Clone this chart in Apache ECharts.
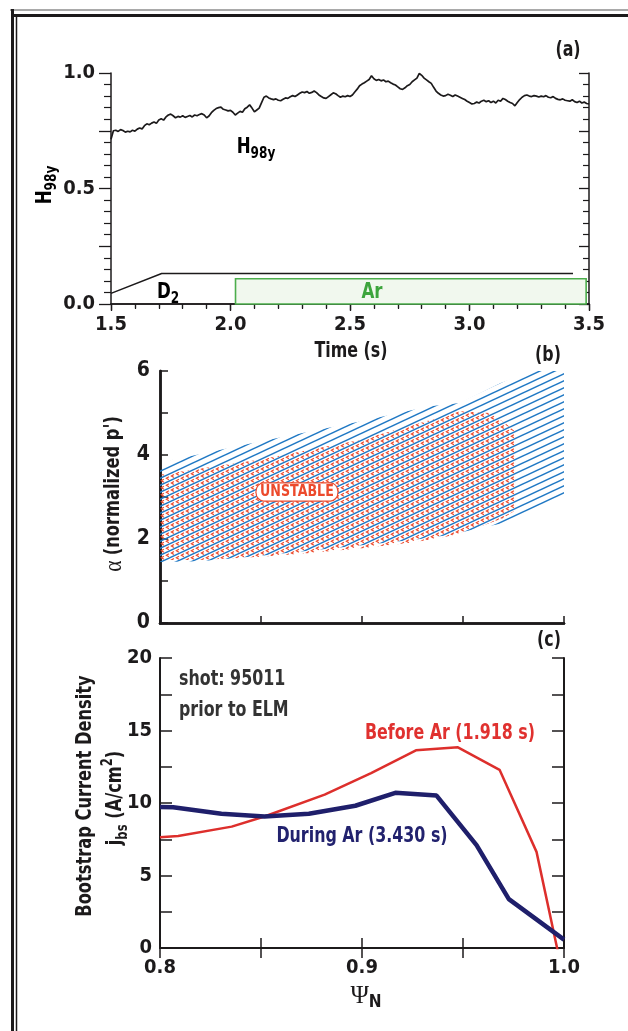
<!DOCTYPE html>
<html>
<head>
<meta charset="utf-8">
<script src="https://cdn.jsdelivr.net/npm/echarts@6/dist/echarts.min.js"></script>
<style>
  html, body { margin: 0; padding: 0; background: #fff; }
  #chart { width: 628px; height: 1031px; }
</style>
</head>
<body>
<div id="chart"></div>
<script>
// ---------- data ----------
// (a) H98y confinement factor, sampled every 10 ms from 1.50 s to 3.50 s
const h98Start = 1.5;
const h98Step = 0.01;
const h98Values = [
  0.713, 0.750, 0.752, 0.747, 0.755, 0.751, 0.744, 0.748, 0.745, 0.752,
  0.748, 0.757, 0.762, 0.758, 0.772, 0.780, 0.776, 0.783, 0.788, 0.782,
  0.797, 0.802, 0.796, 0.810, 0.818, 0.822, 0.815, 0.806, 0.812, 0.809,
  0.815, 0.808, 0.812, 0.816, 0.810, 0.818, 0.815, 0.820, 0.824, 0.818,
  0.806, 0.814, 0.828, 0.838, 0.846, 0.850, 0.852, 0.843, 0.840, 0.836,
  0.838, 0.830, 0.818, 0.826, 0.834, 0.830, 0.845, 0.852, 0.862, 0.848,
  0.832, 0.840, 0.848, 0.872, 0.895, 0.900, 0.892, 0.888, 0.885, 0.888,
  0.882, 0.880, 0.886, 0.892, 0.890, 0.897, 0.902, 0.898, 0.905, 0.912,
  0.918, 0.915, 0.920, 0.912, 0.916, 0.922, 0.915, 0.905, 0.898, 0.892,
  0.890, 0.898, 0.906, 0.914, 0.910, 0.902, 0.895, 0.900, 0.897, 0.902,
  0.898, 0.905, 0.918, 0.930, 0.945, 0.952, 0.958, 0.965, 0.972, 0.988,
  0.975, 0.968, 0.972, 0.966, 0.970, 0.962, 0.965, 0.958, 0.952, 0.948,
  0.940, 0.932, 0.929, 0.936, 0.945, 0.950, 0.962, 0.970, 0.978, 0.998,
  0.990, 0.978, 0.970, 0.962, 0.955, 0.938, 0.922, 0.912, 0.905, 0.900,
  0.902, 0.908, 0.904, 0.898, 0.905, 0.900, 0.895, 0.890, 0.885, 0.878,
  0.872, 0.866, 0.868, 0.874, 0.870, 0.878, 0.882, 0.876, 0.880, 0.872,
  0.878, 0.870, 0.882, 0.878, 0.890, 0.885, 0.878, 0.872, 0.868, 0.858,
  0.872, 0.885, 0.895, 0.902, 0.905, 0.900, 0.898, 0.902, 0.900, 0.896,
  0.900, 0.897, 0.902, 0.895, 0.893, 0.898, 0.890, 0.886, 0.884, 0.888,
  0.882, 0.880, 0.878, 0.884, 0.876, 0.872, 0.878, 0.870, 0.874, 0.868,
  0.866
];
// D2 gas waveform (time, scaled level)
const d2Wave = [[1.5, 0.046], [1.712, 0.132], [3.433, 0.132]];
// Argon puff window: [start, end] in s, box height
const arWindow = [2.021, 3.488];
const arHeight = 0.109;

// (b) stability diagram regions (normalised radius 0..1, alpha)
const stableUpper = [[0, 3.72], [0.03, 3.88], [0.248, 4.32], [0.495, 4.8], [0.668, 5.16],
                     [0.743, 5.24], [0.842, 5.71], [0.916, 5.97], [0.93, 6.0], [1, 6.0]];
const stableLower = [[0, 1.45], [0.1, 1.47], [0.25, 1.6], [0.35, 1.7], [0.5, 1.85],
                     [0.63, 1.98], [0.72, 2.1], [0.8, 2.28], [0.861, 2.4], [1, 3.05]];
const unstableUpper = [[0, 3.53], [0.248, 3.89], [0.43, 4.24], [0.495, 4.36], [0.644, 4.76],
                       [0.743, 5.04], [0.817, 5.0], [0.854, 4.76], [0.879, 4.56]];
const unstableLower = [[0, 1.5], [0.1, 1.5], [0.25, 1.58], [0.35, 1.65], [0.5, 1.78],
                       [0.63, 1.92], [0.72, 2.08], [0.8, 2.32], [0.85, 2.5], [0.879, 2.68]];
const unstableLabelAt = [0.339, 3.12];

// (c) bootstrap current density profiles
const psiBefore = [0.8, 0.809, 0.8355, 0.8517, 0.8815, 0.9045, 0.9267, 0.9475, 0.9681, 0.9864, 0.9975];
const jbsBefore = [7.63, 7.72, 8.37, 9.07, 10.58, 12.06, 13.63, 13.84, 12.29, 6.63, -0.6];
const psiDuring = [0.8, 0.8065, 0.8304, 0.8517, 0.8737, 0.8967, 0.9165, 0.9369, 0.9567, 0.9727, 1.0];
const jbsDuring = [9.72, 9.70, 9.26, 9.07, 9.26, 9.81, 10.70, 10.51, 7.09, 3.37, 0.58];

// ---------- styling ----------
const F = "'DejaVu Sans Condensed', 'Liberation Sans', Arial, sans-serif";
const SERIF = "'Liberation Serif', 'DejaVu Serif', serif";
const INK = '#1c1a1b';
const BLUE = '#1f78c4';
const RED = '#ec4a2c';
const NARROW = 0.84;   // horizontal squeeze for the condensed headline face

function pairs(xs, ys) { return xs.map((x, i) => [x, ys[i]]); }
const h98Data = h98Values.map((v, i) => [+(h98Start + i * h98Step).toFixed(2), v]);

// hatch tiles for the stability diagram: rising blue strokes, red chevron rows between them
const TW = 15, TH = 7;
function blueTile() {
  const c = document.createElement('canvas');
  c.width = TW; c.height = TH;
  const g = c.getContext('2d');
  g.strokeStyle = BLUE; g.lineWidth = 1.5;
  for (let k = -1; k <= 2; k++) {
    g.beginPath();
    g.moveTo(-2, TH + (TH / TW) * 2 + TH * k);
    g.lineTo(TW + 2, TH - (TH / TW) * (TW + 2) + TH * k);
    g.stroke();
  }
  return c;
}
function redTile() {
  const c = document.createElement('canvas');
  c.width = TW; c.height = TH;
  const g = c.getContext('2d');
  g.strokeStyle = RED; g.lineWidth = 1.25;
  const xs = [2.5, 7.5, 12.5];
  xs.forEach(cx0 => {
    const cy0 = ((1.5 * TH - (TH / TW) * cx0) % TH + TH) % TH;
    for (let dx = -TW; dx <= TW; dx += TW) {
      for (let dy = -TH; dy <= TH; dy += TH) {
        const cx = cx0 + dx, cy = cy0 + dy;
        g.beginPath();
        g.moveTo(cx + 1.4, cy - 1.5);
        g.lineTo(cx - 1.1, cy);
        g.lineTo(cx + 1.4, cy + 1.5);
        g.stroke();
      }
    }
  });
  return c;
}
const bluePattern = { image: blueTile(), repeat: 'repeat' };
const redPattern = { image: redTile(), repeat: 'repeat' };

function regionRenderer(upper, lower, fill) {
  return function (params, api) {
    if (params.dataIndex !== 0) return;
    const pts = upper.map(p => api.coord(p))
      .concat(lower.slice().reverse().map(p => api.coord(p)));
    return { type: 'polygon', shape: { points: pts }, style: { fill: fill, stroke: null }, silent: true };
  };
}

// ---------- axes ----------
const lineStyle = w => ({ show: true, lineStyle: { color: INK, width: w } });
const tickLabel = size => ({ color: INK, fontFamily: F, fontWeight: 'bold', fontSize: size });

const xAxes = [
  // (a) bottom
  { gridIndex: 0, type: 'value', min: 1.5, max: 3.5, interval: 0.5, position: 'bottom',
    axisLine: lineStyle(1.5), splitLine: { show: false },
    axisTick: { show: true, inside: false, length: 7, lineStyle: { color: INK, width: 1.3 } },
    minorTick: { show: true, splitNumber: 5, length: 5, lineStyle: { color: INK, width: 1.2 } },
    axisLabel: Object.assign(tickLabel(20), { margin: 11, formatter: v => v.toFixed(1) }) },
  // (a) top
  { gridIndex: 0, type: 'value', min: 1.5, max: 3.5, interval: 0.5, position: 'top',
    axisLine: lineStyle(1.5), splitLine: { show: false }, axisLabel: { show: false },
    axisTick: { show: true, inside: true, length: 6, lineStyle: { color: INK, width: 1.3 } },
    minorTick: { show: true, splitNumber: 5, length: 4, lineStyle: { color: INK, width: 1.2 } } },
  // (b) bottom
  { gridIndex: 1, type: 'value', min: 0, max: 1, interval: 0.25, position: 'bottom',
    axisLine: lineStyle(2.5), splitLine: { show: false }, axisLabel: { show: false },
    axisTick: { show: true, inside: true, length: 7, lineStyle: { color: INK, width: 1.5 } } },
  // (b) top
  { gridIndex: 1, type: 'value', min: 0, max: 1, position: 'top',
    axisLine: lineStyle(2.5), splitLine: { show: false }, axisLabel: { show: false }, axisTick: { show: false } },
  // (c) bottom
  { gridIndex: 2, type: 'value', min: 0.8, max: 1.0, interval: 0.05, position: 'bottom',
    axisLine: lineStyle(2), splitLine: { show: false },
    axisTick: { show: true, inside: true, length: 10, lineStyle: { color: INK, width: 1.5 } },
    axisLabel: Object.assign(tickLabel(20), { margin: 10,
      formatter: v => (Math.abs(v * 10 - Math.round(v * 10)) < 1e-6 ? v.toFixed(1) : '') }) },
  // (c) top
  { gridIndex: 2, type: 'value', min: 0.8, max: 1.0, interval: 0.05, position: 'top',
    axisLine: lineStyle(2), splitLine: { show: false }, axisLabel: { show: false },
    axisTick: { show: true, inside: true, length: 10, lineStyle: { color: INK, width: 1.5 } } }
];

const yAxes = [
  // (a) left
  { gridIndex: 0, type: 'value', min: 0, max: 1, interval: 0.25, position: 'left',
    axisLine: lineStyle(1.5), splitLine: { show: false },
    axisTick: { show: true, inside: false, length: 12, lineStyle: { color: INK, width: 1.3 } },
    minorTick: { show: true, splitNumber: 5, length: 7, lineStyle: { color: INK, width: 1.2 } },
    axisLabel: Object.assign(tickLabel(20), { margin: 16,
      formatter: v => (Math.abs(v * 2 - Math.round(v * 2)) < 1e-6 ? v.toFixed(1) : '') }) },
  // (a) right
  { gridIndex: 0, type: 'value', min: 0, max: 1, interval: 0.25, position: 'right',
    axisLine: lineStyle(1.5), splitLine: { show: false }, axisLabel: { show: false },
    axisTick: { show: true, inside: true, length: 10, lineStyle: { color: INK, width: 1.3 } },
    minorTick: { show: true, splitNumber: 5, length: 6, lineStyle: { color: INK, width: 1.2 } } },
  // (b) left
  { gridIndex: 1, type: 'value', min: 0, max: 6, interval: 1, position: 'left',
    axisLine: lineStyle(2.5), splitLine: { show: false },
    axisTick: { show: true, inside: true, length: 8, lineStyle: { color: INK, width: 1.5 } },
    axisLabel: Object.assign(tickLabel(21), { margin: 10, formatter: v => (v % 2 === 0 ? String(v) : '') }) },
  // (b) right
  { gridIndex: 1, type: 'value', min: 0, max: 6, position: 'right',
    axisLine: lineStyle(2.5), splitLine: { show: false }, axisLabel: { show: false }, axisTick: { show: false } },
  // (c) left
  { gridIndex: 2, type: 'value', min: 0, max: 20, interval: 2.5, position: 'left',
    axisLine: lineStyle(2), splitLine: { show: false },
    axisTick: { show: true, inside: true, length: 12, lineStyle: { color: INK, width: 1.5 } },
    axisLabel: Object.assign(tickLabel(20), { margin: 8, formatter: v => (v % 5 === 0 ? String(v) : '') }) },
  // (c) right
  { gridIndex: 2, type: 'value', min: 0, max: 20, interval: 2.5, position: 'right',
    axisLine: lineStyle(2), splitLine: { show: false }, axisLabel: { show: false },
    axisTick: { show: true, inside: true, length: 12, lineStyle: { color: INK, width: 1.5 } } }
];

// ---------- text helpers ----------
function tok(size, weight, family, extra) {
  return Object.assign({ fontSize: size, fontWeight: weight, fontFamily: family }, extra || {});
}
function label(x, y, text, rich, opts) {
  opts = opts || {};
  const el = {
    type: 'text', x: x, y: y, z: 100, silent: true,
    scaleX: opts.scaleX != null ? opts.scaleX : NARROW,
    style: Object.assign({ text: text, rich: rich, fill: INK, align: 'center', verticalAlign: 'middle',
      fontFamily: F, fontWeight: 'bold', fontSize: 20 }, opts.style || {})
  };
  if (opts.rotation) el.rotation = opts.rotation;
  return el;
}
const subRich = (main, sub, color) => ({
  m: tok(main, 'bold', F, { lineHeight: 30, verticalAlign: 'middle', fill: color }),
  s: tok(sub, 'bold', F, { lineHeight: 16, verticalAlign: 'bottom', fill: color })
});
const line = (x1, y1, x2, y2, w, c) => ({ type: 'line', silent: true, z: 100,
  shape: { x1: x1, y1: y1, x2: x2, y2: y2 }, style: { stroke: c || INK, lineWidth: w } });

const graphics = [
  // page frame
  line(10, 10, 628, 10, 1.2, '#555'),
  line(11, 15.5, 628, 15.5, 3),
  line(12.5, 9, 12.5, 1031, 3),
  line(16.5, 17, 16.5, 1031, 1.5),
  // panel letters
  label(568, 51, '(a)', null, { style: { fontSize: 21 } }),
  label(548, 356, '(b)', null, { style: { fontSize: 21 } }),
  label(549, 641, '(c)', null, { style: { fontSize: 21 } }),
  // (a) titles and annotations
  label(351, 352, 'Time (s)', null, { style: { fontSize: 21 } }),
  label(45, 185, '{m|H}{s|98y}', subRich(22, 16), { rotation: Math.PI / 2 }),
  label(256, 147, '{m|H}{s|98y}', subRich(22, 16)),
  label(168, 292, '{m|D}{s|2}', subRich(22, 16)),
  label(372, 292.5, 'Ar', null, { style: { fill: '#3da53d', fontSize: 22 } }),
  // (b) axis title
  label(114, 494, "{a|\u03b1} {b|(normalized p')}", {
    a: tok(25, 'normal', SERIF), b: tok(21, 'bold', F)
  }, { rotation: Math.PI / 2, scaleX: 0.86 }),
  // (c) axis titles and annotations
  label(86, 796, 'Bootstrap Current Density', null, { rotation: Math.PI / 2, scaleX: 0.86, style: { fontSize: 21 } }),
  label(116, 798, '{m|j}{s|bs}{m| (A/cm}{p|2}{m|)}', {
    m: tok(21, 'bold', F, { lineHeight: 30, verticalAlign: 'middle' }),
    s: tok(15, 'bold', F, { lineHeight: 16, verticalAlign: 'bottom' }),
    p: tok(15, 'bold', F, { lineHeight: 16, verticalAlign: 'top' })
  }, { rotation: Math.PI / 2, scaleX: 0.86 }),
  label(366, 996, '{a|\u03a8}{s|N}', {
    a: tok(25, 'normal', SERIF, { lineHeight: 30, verticalAlign: 'middle' }),
    s: tok(17, 'bold', F, { lineHeight: 18, verticalAlign: 'bottom' })
  }, { scaleX: 1 }),
  label(179, 680, 'shot: 95011', null, { style: { align: 'left', fill: '#333', fontSize: 21 } }),
  label(179, 711, 'prior to ELM', null, { style: { align: 'left', fill: '#333', fontSize: 21 } }),
  label(450, 734, 'Before Ar (1.918 s)', null, { style: { fill: '#e0312f', fontSize: 21 } }),
  label(362, 837, 'During Ar (3.430 s)', null, { style: { fill: '#22226e', fontSize: 21 } })
];

// ---------- chart ----------
const chart = echarts.init(document.getElementById('chart'), null, { renderer: 'canvas' });
chart.setOption({
  animation: false,
  backgroundColor: '#fff',
  grid: [
    { left: 111, top: 73, width: 478, height: 231 },
    { left: 160, top: 371, width: 404, height: 252 },
    { left: 160, top: 658, width: 404, height: 290 }
  ],
  xAxis: xAxes,
  yAxis: yAxes,
  graphic: graphics,
  series: [
    { name: 'H98y', type: 'line', xAxisIndex: 0, yAxisIndex: 0, data: h98Data,
      symbol: 'none', lineStyle: { color: INK, width: 1.7 }, z: 5 },
    { name: 'D2', type: 'line', xAxisIndex: 0, yAxisIndex: 0, data: d2Wave,
      symbol: 'none', lineStyle: { color: INK, width: 1.5 },
      markArea: { silent: true,
        itemStyle: { color: '#f1f8ee', borderColor: '#4cae4c', borderWidth: 1.6 },
        label: { show: false },
        data: [[{ coord: [arWindow[0], 0] }, { coord: [arWindow[1], arHeight] }]] } },
    { name: 'stable', type: 'custom', xAxisIndex: 2, yAxisIndex: 2, data: [[0, 0]],
      renderItem: regionRenderer(stableUpper, stableLower, bluePattern), z: 2 },
    { name: 'unstable', type: 'custom', xAxisIndex: 2, yAxisIndex: 2, data: [[0, 0]],
      renderItem: regionRenderer(unstableUpper, unstableLower, redPattern), z: 3 },
    { name: 'unstableLabel', type: 'custom', xAxisIndex: 2, yAxisIndex: 2, data: [unstableLabelAt], z: 6,
      renderItem: function (params, api) {
        const p = api.coord([api.value(0), api.value(1)]);
        return { type: 'text', x: p[0], y: p[1], scaleX: 0.88, silent: true,
          style: { text: 'UNSTABLE', fill: RED, fontFamily: F, fontWeight: 'bold', fontSize: 16,
            align: 'center', verticalAlign: 'middle', backgroundColor: '#fff',
            borderColor: RED, borderWidth: 1.3, borderRadius: 8, padding: [1, 4, 0, 4] } };
      } },
    { name: 'Before Ar', type: 'line', xAxisIndex: 4, yAxisIndex: 4, data: pairs(psiBefore, jbsBefore),
      symbol: 'none', lineStyle: { color: '#dd2f2c', width: 2.5 }, z: 4 },
    { name: 'During Ar', type: 'line', xAxisIndex: 4, yAxisIndex: 4, data: pairs(psiDuring, jbsDuring),
      symbol: 'none', lineStyle: { color: '#1f1f6b', width: 4.5 }, z: 5 }
  ]
});
</script>
</body>
</html>
